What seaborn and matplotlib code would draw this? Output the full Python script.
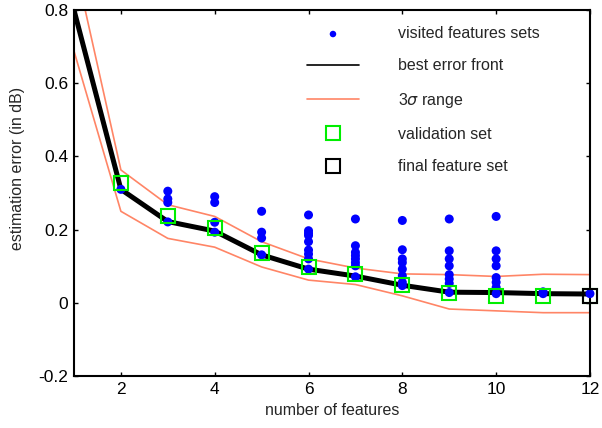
import numpy as np
import pandas as pd
import matplotlib
matplotlib.use('Agg')
import matplotlib.pyplot as plt
import seaborn as sns

n_features = [1, 2, 3, 4, 5, 6, 7, 8, 9, 10, 11, 12]
best_error = [0.80, 0.310, 0.222, 0.196, 0.131, 0.092, 0.073, 0.048, 0.029, 0.028, 0.025, 0.024]
upper_3sigma = [0.937, 0.363, 0.268, 0.236, 0.167, 0.120, 0.095, 0.079, 0.077, 0.072, 0.078, 0.077]
lower_3sigma = [0.688, 0.250, 0.176, 0.152, 0.098, 0.062, 0.050, 0.019, -0.017, -0.022, -0.027, -0.027]

validation_x = [2, 3, 4, 5, 6, 7, 8, 9, 10, 11, 12]
validation_y = [0.328, 0.238, 0.205, 0.136, 0.097, 0.079, 0.048, 0.028, 0.019, 0.019, 0.019]
final_x = [12]
final_y = [0.019]

visited = {
    2: [0.310],
    3: [0.305, 0.284, 0.274, 0.221],
    4: [0.290, 0.274, 0.220, 0.193],
    5: [0.250, 0.193, 0.177, 0.131],
    6: [0.240, 0.197, 0.190, 0.184, 0.167, 0.144, 0.133, 0.120, 0.092],
    7: [0.229, 0.156, 0.138, 0.129, 0.120, 0.110, 0.101, 0.071],
    8: [0.225, 0.145, 0.120, 0.110, 0.092, 0.074, 0.056, 0.047],
    9: [0.229, 0.142, 0.120, 0.101, 0.077, 0.065, 0.053, 0.028],
    10: [0.236, 0.142, 0.120, 0.101, 0.069, 0.056, 0.042, 0.025],
    11: [0.030, 0.025],
    12: [0.025],
}

visited_df = pd.DataFrame([(k, v) for k, vals in visited.items() for v in vals],
                          columns=['features', 'error'])

sns.set_style('ticks')
plt.rcParams['font.family'] = ['Liberation Sans', 'DejaVu Sans']
plt.rcParams['mathtext.fontset'] = 'dejavusans'

fig = plt.figure(figsize=(6.02, 4.28), dpi=100)
ax = fig.add_axes([0.1229, 0.1215, 0.8571, 0.8551])

salmon = '#ff8566'
sns.lineplot(x=n_features, y=best_error, color='black', linewidth=3.6, ax=ax,
             label='best error front', zorder=3)
sns.lineplot(x=n_features, y=upper_3sigma, color=salmon, linewidth=1.2, ax=ax,
             label='3$\\sigma$ range', zorder=2)
sns.lineplot(x=n_features, y=lower_3sigma, color=salmon, linewidth=1.2, ax=ax,
             zorder=2)
sns.scatterplot(data=visited_df, x='features', y='error', color='#0000ff', s=42,
                edgecolor='none', ax=ax, label='visited features sets', zorder=4,
                clip_on=False)
ax.plot(validation_x, validation_y, linestyle='none', marker='s', markersize=10.5,
        markerfacecolor='none', markeredgecolor='#00ee00', markeredgewidth=1.5,
        label='validation set', zorder=5, clip_on=False)
ax.plot(final_x, final_y, linestyle='none', marker='s', markersize=10.5,
        markerfacecolor='none', markeredgecolor='black', markeredgewidth=1.5,
        label='final feature set', zorder=6, clip_on=False)

ax.set_xlim(1, 12)
ax.set_ylim(-0.2, 0.8)
ax.set_xticks([2, 4, 6, 8, 10, 12])
ax.set_yticks([-0.2, 0, 0.2, 0.4, 0.6, 0.8])
ax.set_yticklabels(['-0.2', '0', '0.2', '0.4', '0.6', '0.8'])
ax.set_xlabel('number of features', fontsize=11.5, labelpad=5)
ax.set_ylabel('estimation error (in dB)', fontsize=11.5)
ax.yaxis.set_label_coords(-0.095, 0.568)
ax.tick_params(direction='in', length=3, width=1, top=True, right=True,
               labelsize=12.5, color='black', labelcolor='black', pad=4)
for sp in ax.spines.values():
    sp.set_visible(True)
    sp.set_linewidth(1.5)
    sp.set_color('black')

handles, labels = ax.get_legend_handles_labels()
order = ['visited features sets', 'best error front', '3$\\sigma$ range',
         'validation set', 'final feature set']
hmap = dict(zip(labels, handles))
leg = ax.legend([hmap[k] for k in order], order, loc='upper left',
                bbox_to_anchor=(0.423, 0.995), frameon=False, fontsize=11.5,
                handlelength=3.3, handletextpad=2.4, labelspacing=1.08)
leg.legend_handles[0].set_sizes([22])
leg.legend_handles[1].set_linewidth(1.2)

fig.savefig('out.png', dpi=100)
